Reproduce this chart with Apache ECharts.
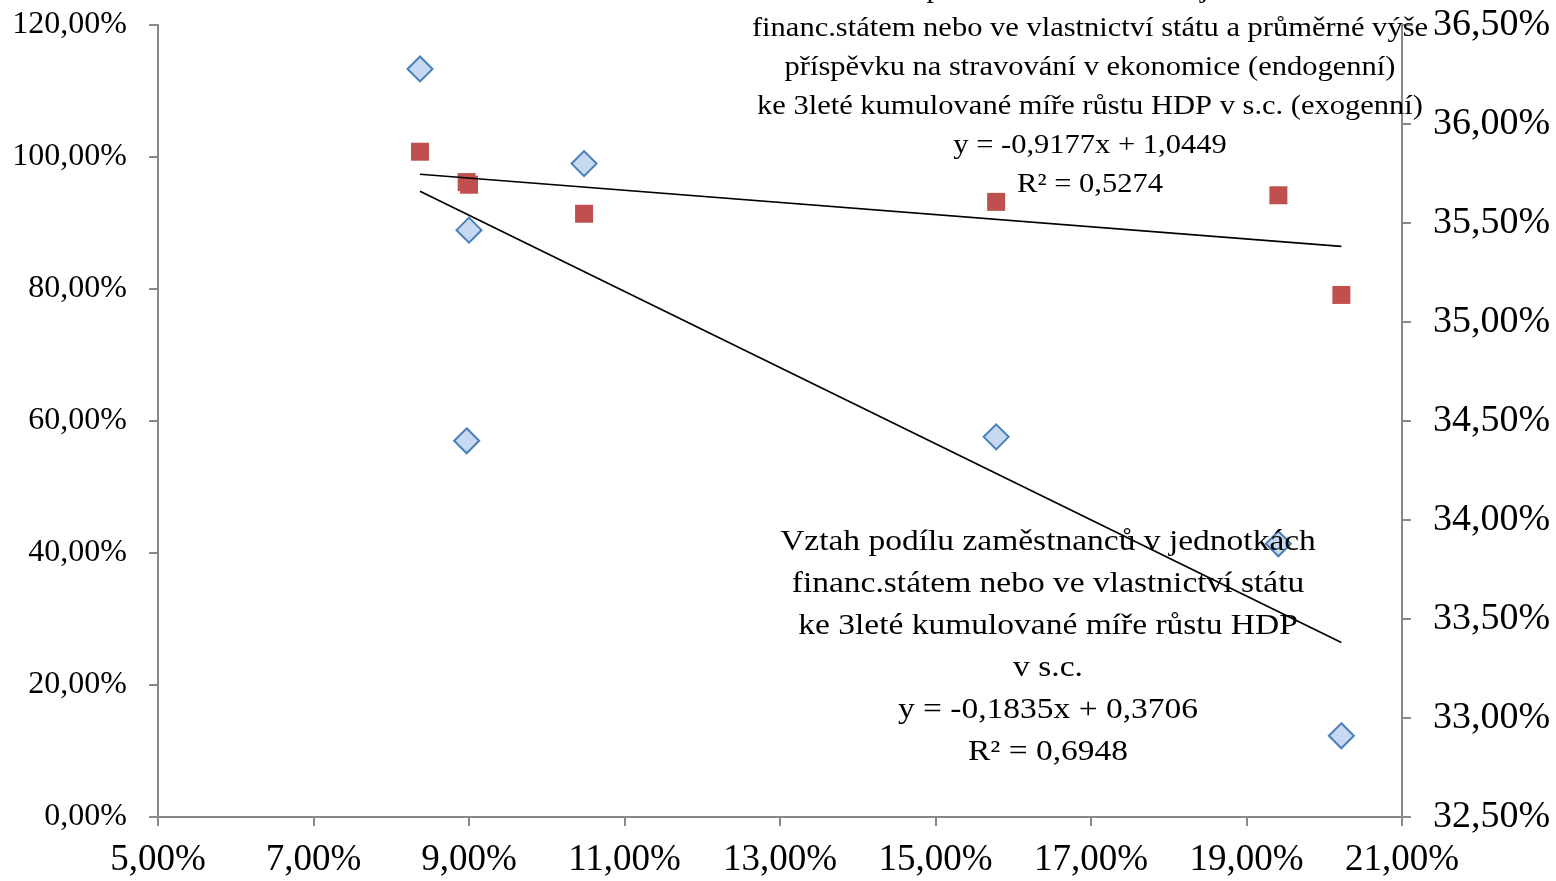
<!DOCTYPE html>
<html><head><meta charset="utf-8">
<script src="https://cdn.jsdelivr.net/npm/echarts@6/dist/echarts.min.js"></script>
<style>html,body{margin:0;padding:0;background:#fff}#c{width:1556px;height:881px}</style>
</head><body><div id="c"></div>
<script>
// x: 3letá kumulovaná míra růstu HDP (%)
const xDiamond = [8.37, 9.00, 8.97, 10.48, 15.78, 19.41, 20.22];
// podíl zaměstnanců (pravá osa, %)
const yDiamond = [36.278, 35.464, 34.40, 35.80, 34.42, 33.88, 32.91];
const xSquare = [8.37, 8.97, 9.00, 10.48, 15.78, 19.41, 20.22];
// (levá osa, %)
const ySquare = [100.8, 96.2, 95.8, 91.4, 93.2, 94.2, 79.1];

const xTicks = {min: 5, max: 21, interval: 2};
const leftTicks = {min: 0, max: 120, interval: 20};
const rightTicks = {min: 32.5, max: 36.5, interval: 0.5};

const textUpper = [
  'Vztah podílu zaměstnanců v jednotkách',
  'financ.státem nebo ve vlastnictví státu a průměrné výše',
  'příspěvku na stravování v ekonomice (endogenní)',
  'ke 3leté kumulované míře růstu HDP v s.c. (exogenní)',
  'y = -0,9177x + 1,0449',
  'R² = 0,5274'
];
const textLower = [
  'Vztah podílu zaměstnanců v jednotkách',
  'financ.státem nebo ve vlastnictví státu',
  'ke 3leté kumulované míře růstu HDP',
  'v s.c.',
  'y = -0,1835x + 0,3706',
  'R² = 0,6948'
];

function regLine(xs, ys) {
  const n = xs.length;
  const mx = xs.reduce((a, b) => a + b, 0) / n;
  const my = ys.reduce((a, b) => a + b, 0) / n;
  let sxy = 0, sxx = 0;
  for (let i = 0; i < n; i++) { sxy += (xs[i] - mx) * (ys[i] - my); sxx += (xs[i] - mx) ** 2; }
  const b = sxy / sxx, a = my - b * mx;
  const x0 = Math.min(...xs), x1 = Math.max(...xs);
  return [[x0, a + b * x0], [x1, a + b * x1]];
}

const fmt = v => v.toFixed(2).replace('.', ',') + '%';
const serif = '"Liberation Serif", "Times New Roman", serif';
const axisLineStyle = {color: '#898989', width: 2};

const chart = echarts.init(document.getElementById('c'));
chart.setOption({
  animation: false,
  grid: {left: 158, right: 154, top: 25, bottom: 64},
  xAxis: {
    type: 'value', min: xTicks.min, max: xTicks.max, interval: xTicks.interval,
    splitLine: {show: false},
    axisLine: {show: true, lineStyle: axisLineStyle},
    axisTick: {show: true, length: 9, lineStyle: axisLineStyle},
    axisLabel: {formatter: fmt, fontFamily: serif, fontSize: 37, color: '#000', margin: 25}
  },
  yAxis: [
    {
      type: 'value', position: 'left', min: leftTicks.min, max: leftTicks.max, interval: leftTicks.interval,
      splitLine: {show: false},
      axisLine: {show: true, lineStyle: axisLineStyle},
      axisTick: {show: true, length: 9, lineStyle: axisLineStyle},
      axisLabel: {formatter: fmt, fontFamily: serif, fontSize: 32, color: '#000', margin: 31}
    },
    {
      type: 'value', position: 'right', min: rightTicks.min, max: rightTicks.max, interval: rightTicks.interval,
      splitLine: {show: false},
      axisLine: {show: true, lineStyle: axisLineStyle},
      axisTick: {show: true, length: 9, lineStyle: axisLineStyle},
      axisLabel: {formatter: fmt, fontFamily: serif, fontSize: 38, color: '#000', margin: 31}
    }
  ],
  series: [
    {
      type: 'scatter', yAxisIndex: 0, symbol: 'rect', symbolSize: 18,
      itemStyle: {color: '#c0504d', opacity: 1},
      data: xSquare.map((x, i) => [x, ySquare[i]]), z: 3
    },
    {
      type: 'scatter', yAxisIndex: 1, symbol: 'diamond', symbolSize: [25, 25],
      itemStyle: {color: '#c6d9f1', borderColor: '#4a7ebb', borderWidth: 2, opacity: 1},
      data: xDiamond.map((x, i) => [x, yDiamond[i]]), z: 3
    },
    {
      type: 'line', yAxisIndex: 0, symbol: 'none', silent: true,
      lineStyle: {color: '#000', width: 1.7},
      data: regLine(xSquare, ySquare), z: 4
    },
    {
      type: 'line', yAxisIndex: 1, symbol: 'none', silent: true,
      lineStyle: {color: '#000', width: 1.7},
      data: regLine(xDiamond, yDiamond), z: 4
    }
  ],
  graphic: [
    {
      type: 'text', z: 10,
      x: 1090, y: -30, scaleX: 1.13,
      style: {text: textUpper.join('\n'), font: '27px ' + serif, fill: '#000', align: 'center', verticalAlign: 'top', lineHeight: 39}
    },
    {
      type: 'text', z: 10,
      x: 1048, y: 521, scaleX: 1.155,
      style: {text: textLower.join('\n'), font: '29px ' + serif, fill: '#000', align: 'center', verticalAlign: 'top', lineHeight: 42}
    }
  ]
});
</script></body></html>
